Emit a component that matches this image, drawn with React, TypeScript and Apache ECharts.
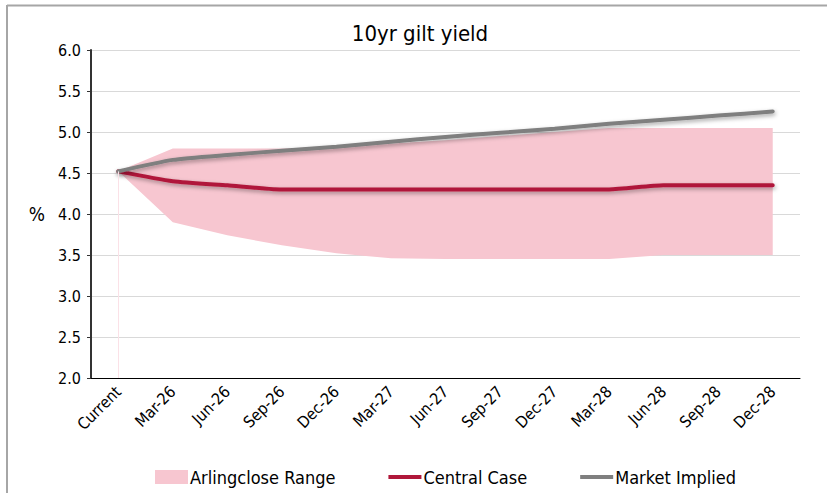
import React, { useEffect, useRef } from "react";
import * as echarts from "echarts";

const categories = ["Current", "Mar-26", "Jun-26", "Sep-26", "Dec-26", "Mar-27", "Jun-27", "Sep-27", "Dec-27", "Mar-28", "Jun-28", "Sep-28", "Dec-28"];
const rangeLower = [4.52, 3.9, 3.74, 3.62, 3.52, 3.46, 3.45, 3.45, 3.45, 3.45, 3.5, 3.5, 3.5];
const rangeUpper = [4.52, 4.8, 4.8, 4.8, 4.82, 4.86, 4.9, 4.95, 5.0, 5.05, 5.05, 5.05, 5.05];
const centralCase = [4.52, 4.4, 4.35, 4.3, 4.3, 4.3, 4.3, 4.3, 4.3, 4.3, 4.35, 4.35, 4.35];
const marketImplied = [4.52, 4.66, 4.72, 4.77, 4.82, 4.88, 4.94, 4.99, 5.04, 5.1, 5.15, 5.2, 5.25];
const yTicks = { min: 2, max: 6, interval: 0.5 };

const FONT = "'DejaVu Sans Condensed', 'DejaVu Sans', sans-serif";
const LINE_ICON = "path://M0,0 M0,14 M0,5 L33,5 L33,9 L0,9 Z";

export default function App() {
  const ref = useRef<HTMLDivElement>(null);
  useEffect(() => {
    if (!ref.current) return;
    const chart = echarts.init(ref.current, null, { renderer: "svg" });
    const rangeDiff = rangeUpper.map((u, i) => +(u - rangeLower[i]).toFixed(3));
    const shadow = { shadowColor: "rgba(0,0,0,0.35)", shadowBlur: 4, shadowOffsetX: 1, shadowOffsetY: 2 };
    chart.setOption({
      animation: false,
      textStyle: { fontFamily: FONT },
      title: {
        text: "10yr gilt yield",
        left: 415,
        textAlign: "center",
        top: 17,
        textStyle: { fontFamily: FONT, fontSize: 22, fontWeight: "normal", color: "#000" },
      },
      graphic: [
        { type: "line", shape: { x1: 7, y1: 5.5, x2: 827, y2: 5.5 }, style: { stroke: "#a6a6a6", lineWidth: 2 } },
        { type: "line", shape: { x1: 7, y1: 5, x2: 7, y2: 493 }, style: { stroke: "#a6a6a6", lineWidth: 2 } },
      ],
      legend: {
        left: 150,
        top: 463,
        itemWidth: 33,
        itemHeight: 14,
        itemGap: 53,
        textStyle: { fontFamily: FONT, fontSize: 18, color: "#000", padding: [0, 0, 0, -3] },
        data: [
          { name: "Arlingclose Range", icon: "rect", itemStyle: { color: "#f7c6d0" } },
          { name: "Central Case", icon: LINE_ICON, itemStyle: { color: "#b0173a" } },
          { name: "Market Implied", icon: LINE_ICON, itemStyle: { color: "#7f7f7f" } },
        ],
      },
      grid: { left: 91, right: 27, top: 50, bottom: 115, containLabel: false },
      xAxis: {
        type: "category",
        data: categories,
        boundaryGap: true,
        axisLine: { lineStyle: { color: "#000", width: 1 } },
        axisTick: { show: false },
        axisLabel: { rotate: 45, fontSize: 16, color: "#000", fontFamily: FONT, margin: 11, interval: 0 },
      },
      yAxis: {
        type: "value",
        min: yTicks.min,
        max: yTicks.max,
        interval: yTicks.interval,
        name: "%",
        nameLocation: "middle",
        nameRotate: 0,
        nameGap: 46,
        nameTextStyle: { fontSize: 19, color: "#000", fontFamily: FONT },
        axisLine: { show: true, lineStyle: { color: "#333", width: 2 } },
        axisTick: { show: true, length: 4, lineStyle: { color: "#333" } },
        axisLabel: { fontSize: 16, color: "#000", fontFamily: FONT, margin: 10, formatter: (v: number) => v.toFixed(1) },
        splitLine: { lineStyle: { color: "#d9d9d9", width: 1 } },
      },
      series: [
        {
          name: "rangeBase",
          type: "line",
          stack: "range",
          data: rangeLower,
          symbol: "none",
          lineStyle: { opacity: 0 },
          areaStyle: { opacity: 0 },
          silent: true,
          markLine: {
            symbol: "none",
            silent: true,
            label: { show: false },
            lineStyle: { color: "#fbe1e7", width: 1, type: "solid" },
            data: [[{ coord: ["Current", 2] }, { coord: ["Current", 4.52] }]],
          },
        },
        {
          name: "Arlingclose Range",
          type: "line",
          stack: "range",
          data: rangeDiff,
          symbol: "none",
          lineStyle: { opacity: 0 },
          areaStyle: { color: "#f7c6d0", opacity: 1 },
          itemStyle: { color: "#f7c6d0" },
        },
        {
          name: "Central Case",
          type: "line",
          data: centralCase,
          smooth: 0.2,
          symbol: "none",
          itemStyle: { color: "#b0173a" },
          lineStyle: { color: "#b0173a", width: 4, cap: "round", ...shadow },
        },
        {
          name: "Market Implied",
          type: "line",
          data: marketImplied,
          smooth: 0.2,
          symbol: "none",
          itemStyle: { color: "#7f7f7f" },
          lineStyle: { color: "#7f7f7f", width: 4, cap: "round", ...shadow },
        },
      ],
    });
    return () => chart.dispose();
  }, []);
  return <div ref={ref} style={{ position: "fixed", left: 0, top: 0, width: 827, height: 493, background: "#fff" }} />;
}
